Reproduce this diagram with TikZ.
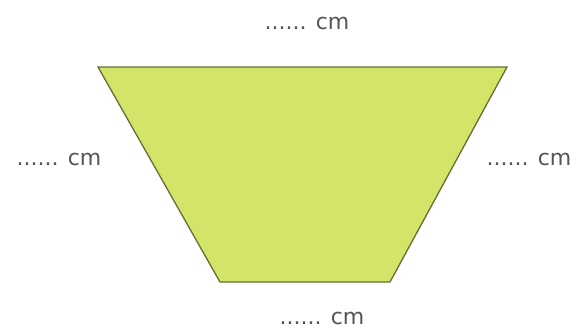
\documentclass[tikz,border=0pt]{standalone}
\usepackage{fontspec}
\setmainfont{DejaVu Sans}
\definecolor{trapfill}{RGB}{212,228,104}
\definecolor{trapline}{RGB}{100,110,55}
\definecolor{labelgray}{RGB}{85,85,85}
\begin{document}
\begin{tikzpicture}[x=1pt,y=-1pt,
  lbl/.style={font=\fontsize{22}{24}\selectfont, text=labelgray, anchor=base, inner sep=0pt},
  trap/.style={fill=trapfill, draw=trapline, line width=1.3pt, line join=miter}]
\useasboundingbox (0,0) rectangle (581,330);
\coordinate (tl) at (98,67);
\coordinate (tr) at (507,67);
\coordinate (br) at (390,282);
\coordinate (bl) at (220,282);
\draw[trap] (tl) -- (tr) -- (br) -- (bl) -- cycle;
\node[lbl] (top) at (307,29) {...... cm};
\node[lbl] (left) at (59,165) {...... cm};
\node[lbl] (right) at (529,165) {...... cm};
\node[lbl] (bottom) at (322,324) {...... cm};
\end{tikzpicture}
\end{document}
